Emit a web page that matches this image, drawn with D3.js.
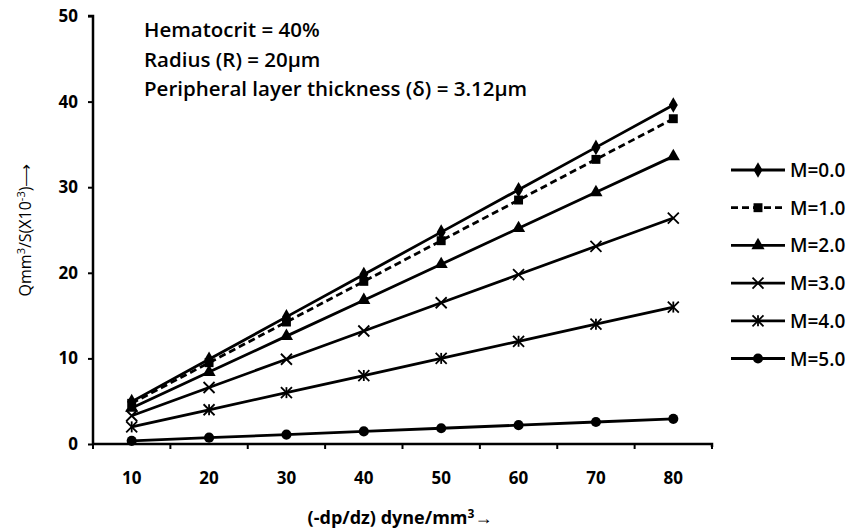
<!DOCTYPE html>
<html><head><meta charset="utf-8">
<script src="https://cdn.jsdelivr.net/npm/d3@7"></script>
<style>body{margin:0;background:#fff}svg{display:block}</style>
</head><body>
<svg id="c" width="851" height="531"></svg>
<script>
const categories = [10, 20, 30, 40, 50, 60, 70, 80];
const seriesNames = ["M=0.0", "M=1.0", "M=2.0", "M=3.0", "M=4.0", "M=5.0"];
const m0 = [4.95, 9.9, 14.85, 19.8, 24.75, 29.7, 34.65, 39.6];
const m1 = [4.75, 9.5, 14.25, 19.0, 23.75, 28.5, 33.25, 38.0];
const m2 = [4.2, 8.4, 12.6, 16.8, 21.0, 25.2, 29.4, 33.6];
const m3 = [3.3, 6.6, 9.9, 13.2, 16.5, 19.8, 23.1, 26.4];
const m4 = [2.0, 4.0, 6.0, 8.0, 10.0, 12.0, 14.0, 16.0];
const m5 = [0.37, 0.74, 1.1, 1.47, 1.84, 2.2, 2.57, 2.94];
const yTicks = [0, 10, 20, 30, 40, 50];
const notes = ["Hematocrit = 40%", "Radius (R) = 20\u00b5m", "Peripheral layer thickness (\u03b4) = 3.12\u00b5m"];

const series = [m0, m1, m2, m3, m4, m5];
const markers = ["diamond", "square", "triangle", "x", "star", "circle"];
const dashes = [null, "7,4", null, null, null, null];

const svg = d3.select("#c");
const font = "'Open Sans', sans-serif";
const L = 93, R = 712, T = 16, B = 444;
const x = d3.scaleBand().domain(categories).range([L, R]);
const y = d3.scaleLinear().domain([0, 50]).range([B, T]);

// axes
const yAxis = svg.append("g").attr("transform", `translate(${L},0)`)
  .call(d3.axisLeft(y).tickValues(yTicks).tickSize(5).tickPadding(10));
const xAxis = svg.append("g").attr("transform", `translate(0,${B})`)
  .call(d3.axisBottom(x).tickSize(0).tickPadding(28));
// band boundary ticks
xAxis.selectAll(".bt").data(d3.range(categories.length + 1)).enter().append("line")
  .attr("x1", i => L + i * x.step()).attr("x2", i => L + i * x.step())
  .attr("y1", 0).attr("y2", 5).attr("stroke", "#000").attr("stroke-width", 2);
[yAxis, xAxis].forEach(g => {
  g.select(".domain").attr("stroke", "#000").attr("stroke-width", 2.5);
  g.selectAll(".tick line").attr("stroke", "#000").attr("stroke-width", 2);
  g.selectAll("text").attr("font-family", font).attr("font-size", 17).attr("font-weight", "bold").attr("fill", "#000");
});
yAxis.select(".domain").attr("d", `M-5,${T}H0V${B}`);
xAxis.select(".domain").attr("d", `M${L},0H${R}V3`);

const sym = {
  diamond: d3.symbol().type(d3.symbolDiamond).size(70),
  square: d3.symbol().type(d3.symbolSquare).size(80),
  triangle: d3.symbol().type(d3.symbolTriangle).size(75),
  circle: d3.symbol().type(d3.symbolCircle).size(80)
};
function drawMarker(g, kind, cx, cy) {
  if (sym[kind]) {
    g.append("path").attr("d", sym[kind]()).attr("transform", `translate(${cx},${cy})`).attr("fill", "#000");
  } else {
    const s = 5.5;
    g.append("path").attr("d", `M${cx - s},${cy - s}L${cx + s},${cy + s}M${cx - s},${cy + s}L${cx + s},${cy - s}`)
      .attr("stroke", "#000").attr("stroke-width", 1.8).attr("fill", "none");
    if (kind === "star") {
      g.append("path").attr("d", `M${cx},${cy - s}L${cx},${cy + s}`).attr("stroke", "#000").attr("stroke-width", 1.8);
    }
  }
}

const line = d3.line().x((d, i) => x(categories[i]) + x.bandwidth() / 2).y(d => y(d));
series.forEach((vals, k) => {
  const g = svg.append("g");
  g.append("path").attr("d", line(vals)).attr("fill", "none").attr("stroke", "#000")
    .attr("stroke-width", 2.8).attr("stroke-dasharray", dashes[k]);
  vals.forEach((v, i) => drawMarker(g, markers[k], x(categories[i]) + x.bandwidth() / 2, y(v)));
});

// legend
const lg = svg.append("g");
seriesNames.forEach((n, k) => {
  const ly = 170 + k * 37.7;
  lg.append("line").attr("x1", 731).attr("x2", 785).attr("y1", ly).attr("y2", ly)
    .attr("stroke", "#000").attr("stroke-width", 2.8).attr("stroke-dasharray", dashes[k]);
  drawMarker(lg, markers[k], 758, ly);
  lg.append("text").attr("x", 790).attr("y", ly + 7).text(n)
    .attr("font-family", font).attr("font-size", 19).attr("font-weight", 600).attr("fill", "#000");
});

// notes
notes.forEach((t, i) => {
  svg.append("text").attr("x", 144).attr("y", 37 + i * 29.5).text(t)
    .attr("font-family", font).attr("font-size", 20.5).attr("font-weight", 600).attr("fill", "#000");
});

// axis titles
svg.append("text").attr("transform", "translate(31,230) rotate(-90)").attr("text-anchor", "middle")
  .attr("font-family", font).attr("font-size", 16).attr("fill", "#000")
  .html("Qmm<tspan font-size='11' dy='-6'>3</tspan><tspan dy='6'>/S(X10</tspan><tspan font-size='11' dy='-6'>-3</tspan><tspan dy='6'>)\u27f6</tspan>");
svg.append("text").attr("x", 400).attr("y", 524).attr("text-anchor", "middle")
  .attr("font-family", font).attr("font-size", 18).attr("font-weight", "bold").attr("fill", "#000")
  .html("(-dp/dz) dyne/mm<tspan font-size='12' dy='-6'>3</tspan><tspan dy='6'>\u2192</tspan>");
</script>
</body></html>
